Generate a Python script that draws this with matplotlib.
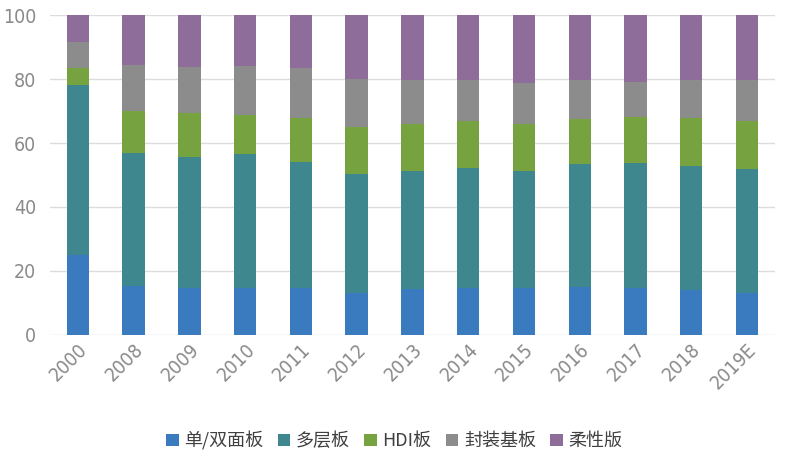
import matplotlib.pyplot as plt
import numpy as np

plt.rcParams['font.family'] = ['Noto Sans CJK SC', 'DejaVu Sans']

years = ['2000', '2008', '2009', '2010', '2011', '2012', '2013',
         '2014', '2015', '2016', '2017', '2018', '2019E']

# 各类PCB占比 (%)
single_double = [25.0, 15.4, 14.8, 14.8, 14.6, 13.0, 14.3, 14.6, 14.6, 14.9, 14.6, 14.1, 13.0]
multilayer = [53.1, 41.4, 40.9, 41.8, 39.4, 37.3, 36.9, 37.5, 36.6, 38.4, 39.0, 38.8, 38.9]
hdi = [5.2, 13.3, 13.6, 12.2, 13.7, 14.6, 14.7, 14.9, 14.6, 14.3, 14.4, 14.8, 15.1]
substrate = [8.2, 14.3, 14.3, 15.4, 15.6, 15.0, 13.8, 12.7, 12.8, 12.1, 11.2, 12.0, 12.7]
flexible = [8.5, 15.6, 16.4, 15.8, 16.7, 20.1, 20.3, 20.3, 21.4, 20.3, 20.8, 20.3, 20.3]

labels = ['单/双面板', '多层板', 'HDI板', '封装基板', '柔性版']
colors = ['#3a7bbf', '#3f878e', '#76a240', '#8c8c8c', '#8f6d9b']

fig = plt.figure(figsize=(8, 4.58), dpi=100)
ax = fig.add_axes([0.0625, 0.2686, 0.906, 0.6986])

x = np.arange(len(years))
bottom = np.zeros(len(years))
for vals, lab, col in zip([single_double, multilayer, hdi, substrate, flexible], labels, colors):
    ax.bar(x, vals, 0.4, bottom=bottom, color=col, label=lab, zorder=2)
    bottom += np.array(vals)

ax.set_xlim(-0.5, len(years) - 0.5)
ax.set_ylim(0, 100)
ax.set_yticks(range(0, 101, 20))
ax.yaxis.grid(True, color='#dcdcdc', linewidth=1, zorder=0)
for s in ax.spines.values():
    s.set_visible(False)
ax.tick_params(length=0, colors='#8a8a8a', labelsize=14)
ax.tick_params(axis='y', pad=10)
ax.set_xticks(x)
ax.set_xticklabels(years, rotation=45, ha='right', rotation_mode='anchor')
for t in ax.get_xticklabels() + ax.get_yticklabels():
    t.set_fontfamily('DejaVu Sans')
    t.set_fontstretch('condensed')
    t.set_fontweight('light')

leg = ax.legend(loc='upper center', bbox_to_anchor=(0.475, -0.25), ncol=5, frameon=False,
                handlelength=0.7, handleheight=0.7, handletextpad=0.3, columnspacing=0.8,
                fontsize=13)
for t in leg.get_texts():
    t.set_color('#404040')

fig.savefig('out.png')
